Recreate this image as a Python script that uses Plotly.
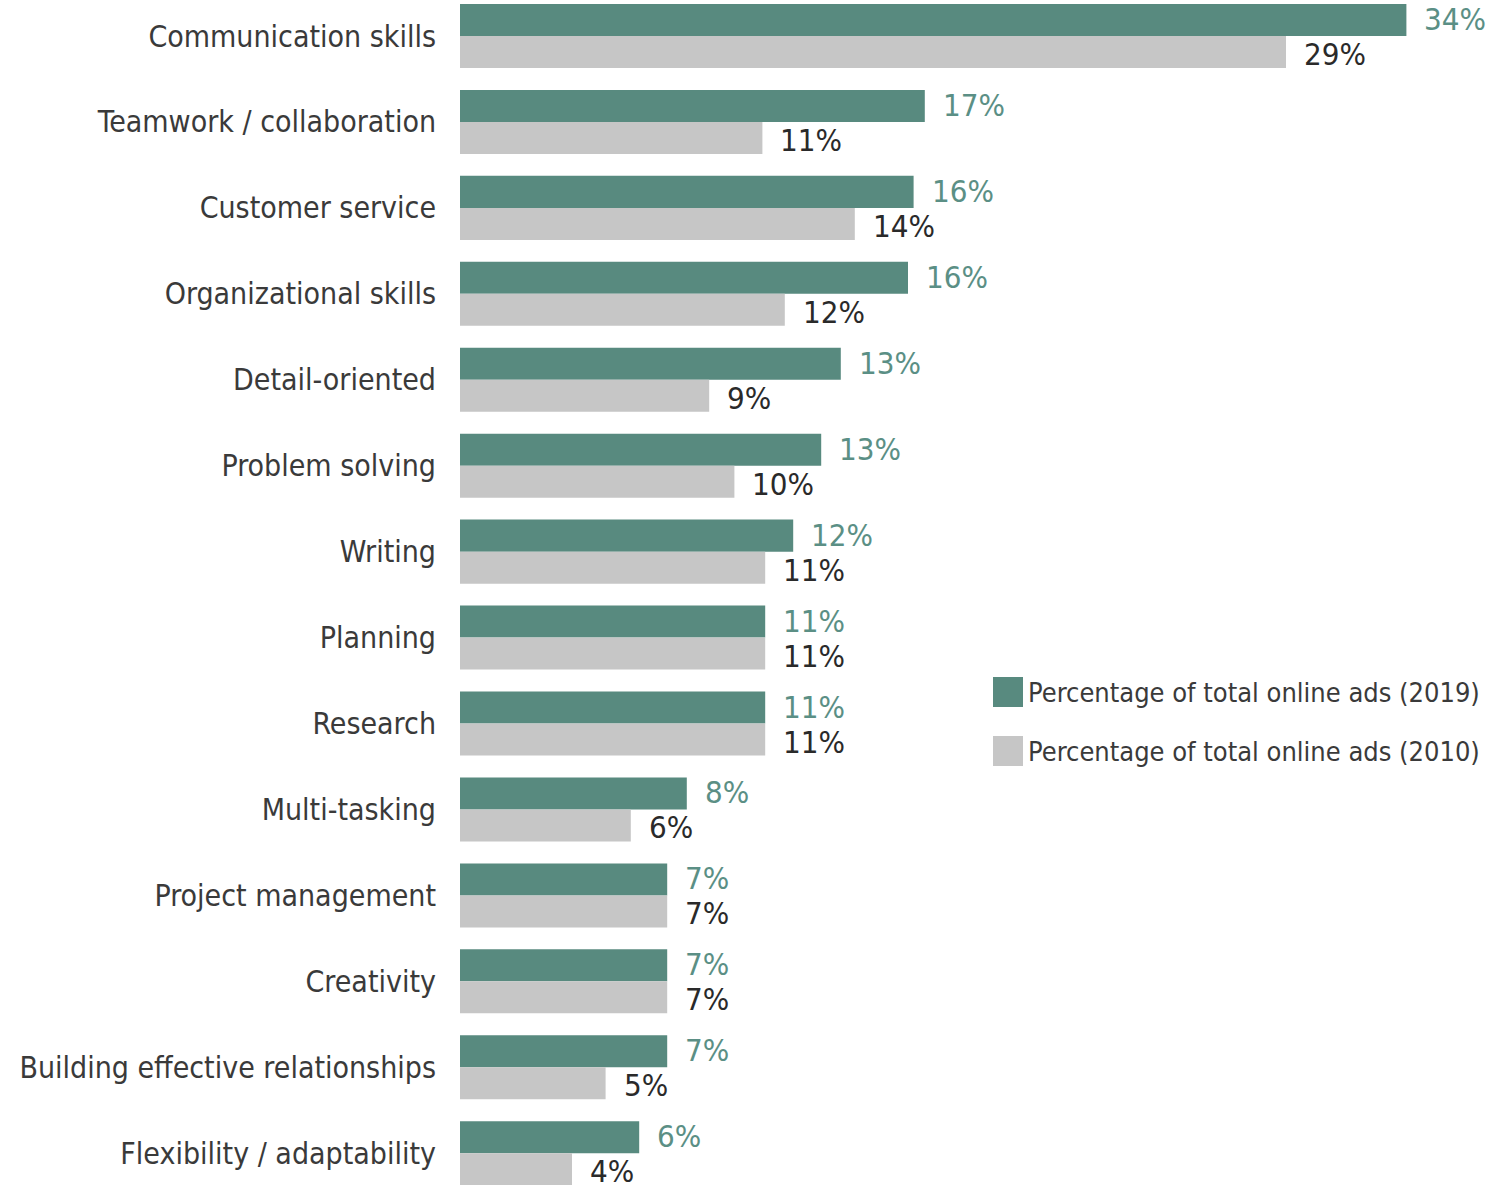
import plotly.graph_objects as go

categories = ["Communication skills", "Teamwork / collaboration", "Customer service",
              "Organizational skills", "Detail-oriented", "Problem solving", "Writing",
              "Planning", "Research", "Multi-tasking", "Project management", "Creativity",
              "Building effective relationships", "Flexibility / adaptability"]
values_2019 = [33.8, 16.6, 16.2, 16.0, 13.6, 12.9, 11.9, 10.9, 10.9, 8.1, 7.4, 7.4, 7.4, 6.4]
values_2010 = [29.5, 10.8, 14.1, 11.6, 8.9, 9.8, 10.9, 10.9, 10.9, 6.1, 7.4, 7.4, 5.2, 4.0]
labels_2019 = ["34%", "17%", "16%", "16%", "13%", "13%", "12%", "11%", "11%", "8%", "7%", "7%", "7%", "6%"]
labels_2010 = ["29%", "11%", "14%", "12%", "9%", "10%", "11%", "11%", "11%", "6%", "7%", "7%", "5%", "4%"]
series_names = ["Percentage of total online ads (2019)", "Percentage of total online ads (2010)"]

GREEN = "#588a7f"
GRAY = "#c6c6c6"
GREEN_TXT = "#5b8f85"
DARK_TXT = "#2a2a2a"
FONT = "DejaVu Sans Condensed, Liberation Sans Narrow, sans-serif"

fig = go.Figure()
fig.add_trace(go.Bar(y=categories, x=values_2019, orientation="h", name=series_names[0],
                     marker=dict(color=GREEN, line=dict(width=0)), showlegend=False))
fig.add_trace(go.Bar(y=categories, x=values_2010, orientation="h", name=series_names[1],
                     marker=dict(color=GRAY, line=dict(width=0)), showlegend=False))

bargap = 0.255
half = (1 - bargap) / 4
annotations = []
for i, cat in enumerate(categories):
    annotations.append(dict(x=values_2019[i], y=i - half, xref="x", yref="y", text=labels_2019[i],
                            showarrow=False, xanchor="left", yanchor="middle", xshift=16, yshift=1,
                            font=dict(family=FONT, size=31, color=GREEN_TXT)))
    annotations.append(dict(x=values_2010[i], y=i + half, xref="x", yref="y", text=labels_2010[i],
                            showarrow=False, xanchor="left", yanchor="middle", xshift=16, yshift=-2,
                            font=dict(family=FONT, size=31, color=DARK_TXT)))

# manual legend
W, H = 1501, 1185
shapes = []
legend_colors = [GREEN, GRAY]
legend_y = [692, 751]
for name, col, yc in zip(series_names, legend_colors, legend_y):
    shapes.append(dict(type="rect", xref="paper", yref="paper",
                       x0=(993 - 460) / (W - 460), x1=(1023 - 460) / (W - 460),
                       y0=1 - (yc + 15) / H, y1=1 - (yc - 15) / H,
                       fillcolor=col, line=dict(width=0)))
    annotations.append(dict(x=(1026 - 460) / (W - 460), y=1 - yc / H, xref="paper", yref="paper",
                            text=name, showarrow=False, xanchor="left", yanchor="middle",
                            font=dict(family=FONT, size=27, color="#3a3a3a")))

fig.update_layout(
    width=W, height=H,
    margin=dict(l=460, r=0, t=0, b=0, autoexpand=False),
    paper_bgcolor="white", plot_bgcolor="white",
    barmode="group", bargap=bargap, bargroupgap=0,
    annotations=annotations, shapes=shapes,
    font=dict(family=FONT),
)
fig.update_xaxes(range=[0, (W - 460) / 28.0], visible=False, showgrid=False, zeroline=False,
                 automargin=False)
fig.update_yaxes(categoryorder="array", categoryarray=categories,
                 range=[13.37, -0.419], showgrid=False, zeroline=False, showline=False,
                 ticks="", ticklabelstandoff=23, automargin=False,
                 tickfont=dict(family=FONT, size=30, color="#3a3a3a"))

fig.write_html("out.html", config={"displayModeBar": False},
               post_script="document.body.style.margin='0';document.body.style.overflow='hidden';")
